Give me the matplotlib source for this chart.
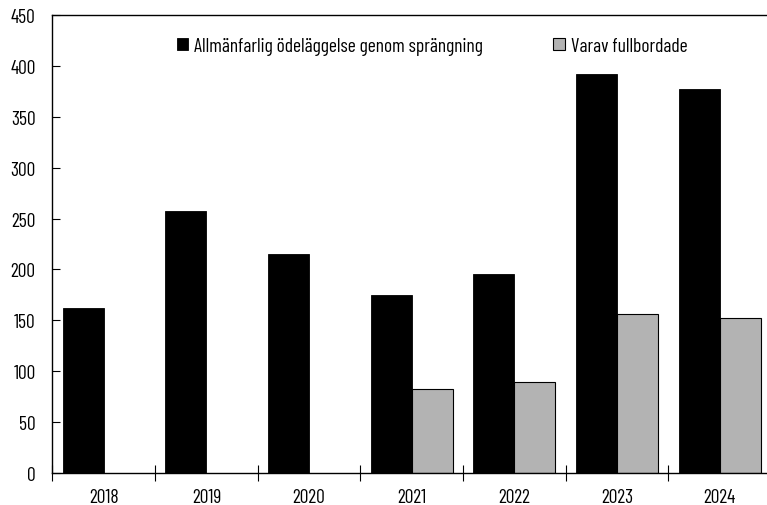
import matplotlib
matplotlib.use("Agg")
import matplotlib.pyplot as plt
import numpy as np
from matplotlib import font_manager

years = ["2018", "2019", "2020", "2021", "2022", "2023", "2024"]
total = [162, 257, 215, 175, 196, 392, 377]
completed = [np.nan, np.nan, np.nan, 83, 89, 156, 152]
labels = ["Allmänfarlig ödeläggelse genom sprängning", "Varav fullbordade"]

names = {f.name for f in font_manager.fontManager.ttflist}
fam = next((n for n in ["Barlow Condensed", "Roboto Condensed", "Archivo Narrow",
                        "Liberation Sans Narrow"] if n in names), "DejaVu Sans")
plt.rcParams['font.family'] = [fam, 'DejaVu Sans']
FS = 14

W, H = 767, 506
fig = plt.figure(figsize=(W/100, H/100), dpi=100)
left, right, top, bottom = 52.4, 771, 16, 474
ax = fig.add_axes([left/W, 1-bottom/H, (right-left)/W, (bottom-top)/H])

x = np.arange(len(years))
bw = 0.4
ax.bar(x - bw/2, total, bw, color="black", edgecolor="black", linewidth=0.6, label=labels[0])
ax.bar(x + bw/2, completed, bw, color="#b3b3b3", edgecolor="black", linewidth=0.8, label=labels[1])

ax.set_xlim(-0.5, len(years)-0.5)
ax.set_ylim(0, 450)
ax.set_yticks(np.arange(0, 451, 50))
ax.tick_params(axis='y', direction='in', length=5.5, labelsize=FS, pad=12)
ax.set_xticks(np.arange(-0.5, len(years)-0.5, 1))
ax.set_xticklabels([])
ax.set_xticks(x, minor=True)
ax.set_xticklabels(years, minor=True)
ax.tick_params(axis='x', which='major', direction='inout', length=11)
ax.tick_params(axis='x', which='minor', length=0, labelsize=FS, pad=11)
for s in ax.spines.values():
    s.set_linewidth(1.0)
ax.spines['right'].set_visible(False)

ax.legend(loc='upper left', bbox_to_anchor=((169-left)/(right-left), 0.969), ncol=2, frameon=False,
          fontsize=FS, handlelength=0.6, handleheight=0.6, handletextpad=0.3,
          columnspacing=3.6, borderaxespad=0)

fig.savefig("out.png", dpi=100)
